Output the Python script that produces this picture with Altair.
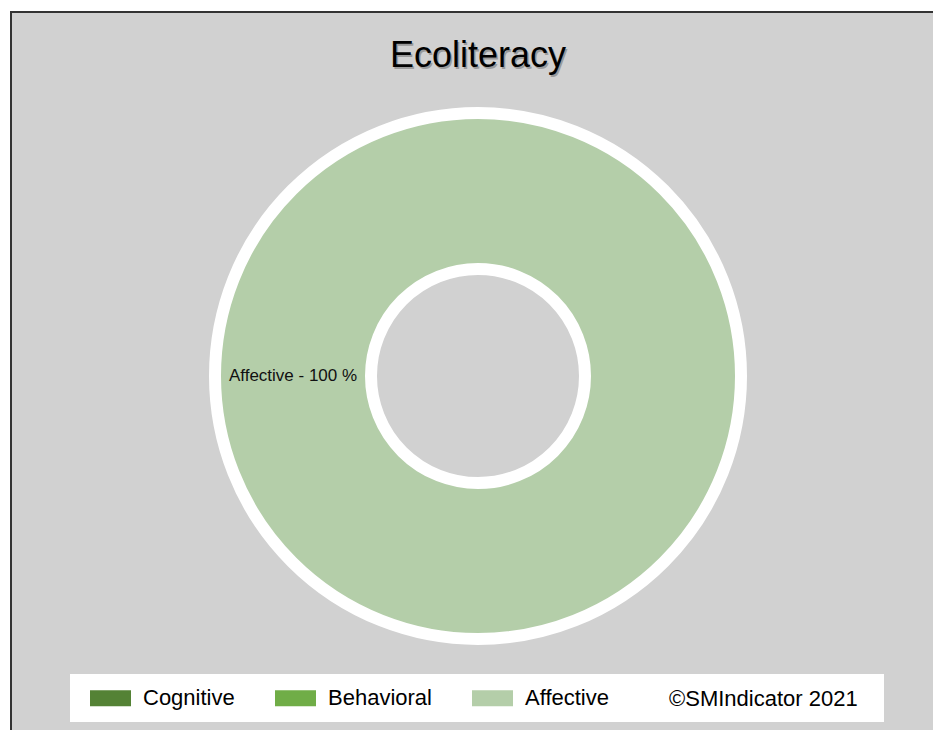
import math
import altair as alt
import pandas as pd

# ---- data ----
categories = ["Cognitive", "Behavioral", "Affective"]
values = [0, 0, 100]
colors = ["#548235", "#70AD47", "#B4CEA9"]
title_text = ["Ecoliteracy"]
copyright_text = ["©SMIndicator 2021"]

df = pd.DataFrame({"category": categories, "value": values})
title_df = pd.DataFrame({"t": title_text})
copy_df = pd.DataFrame({"t": copyright_text})

FONT = "Liberation Sans"
CX, CY = 467, 364
W, H = 922, 718

theta_scale = alt.Scale(range=[math.pi / 2, 5 * math.pi / 2])

base = alt.Chart(df).transform_filter("datum.value > 0")

box = alt.Chart(title_df).mark_rect(fill="white").encode(
    x=alt.value(59), x2=alt.value(873), y=alt.value(662), y2=alt.value(710)
)

left_border = alt.Chart(title_df).mark_rule(color="#333333", strokeWidth=2).encode(
    x=alt.value(0), y=alt.value(-1), y2=alt.value(H)
)
top_border = alt.Chart(title_df).mark_rule(color="#333333", strokeWidth=2).encode(
    x=alt.value(-1), x2=alt.value(W), y=alt.value(0)
)

arc = base.mark_arc(radius=263, radius2=107, stroke="white", strokeWidth=12).encode(
    theta=alt.Theta("value:Q", stack=True, scale=theta_scale),
    color=alt.Color(
        "category:N",
        scale=alt.Scale(domain=categories, range=colors),
        sort=categories,
        legend=alt.Legend(
            orient="none",
            legendX=79,
            legendY=665.5,
            direction="horizontal",
            title=None,
            columns=3,
            symbolType="M-1,-0.39H1V0.39H-1Z",
            symbolSize=1681,
            symbolStrokeWidth=0,
            symbolOpacity=1,
            labelFont=FONT,
            labelFontSize=22,
            labelColor="black",
            labelOffset=12,
            columnPadding=40,
            padding=0,
        ),
    ),
    x=alt.value(CX),
    y=alt.value(CY),
)

label = base.transform_calculate(
    lbl="datum.category + ' - ' + datum.value + ' %'"
).mark_text(radius=185, font=FONT, fontSize=17, color="#111111", align="center", baseline="middle").encode(
    theta=alt.Theta("value:Q", stack=True, scale=theta_scale),
    text="lbl:N",
    x=alt.value(CX),
    y=alt.value(CY),
)

title_shadow = alt.Chart(title_df).mark_text(
    font=FONT, fontSize=36, color="#9a9a9a", align="center", baseline="alphabetic"
).encode(text="t:N", x=alt.value(CX + 1.5), y=alt.value(56.5))

title = alt.Chart(title_df).mark_text(
    font=FONT, fontSize=36, color="#000000", align="center", baseline="alphabetic"
).encode(text="t:N", x=alt.value(CX), y=alt.value(55))

copy = alt.Chart(copy_df).mark_text(
    font=FONT, fontSize=22, color="black", align="left", baseline="middle"
).encode(text="t:N", x=alt.value(658), y=alt.value(687))

chart = alt.layer(box, arc, label, title_shadow, title, copy, left_border, top_border).properties(
    width=W,
    height=H,
    padding={"left": 3, "top": 4, "right": 0, "bottom": 0},
    autosize=alt.AutoSizeParams(type="none"),
    background="white",
).configure_view(fill="#D1D1D1", stroke=None)

chart.save("out.html", embed_options={"renderer": "svg", "actions": False})
